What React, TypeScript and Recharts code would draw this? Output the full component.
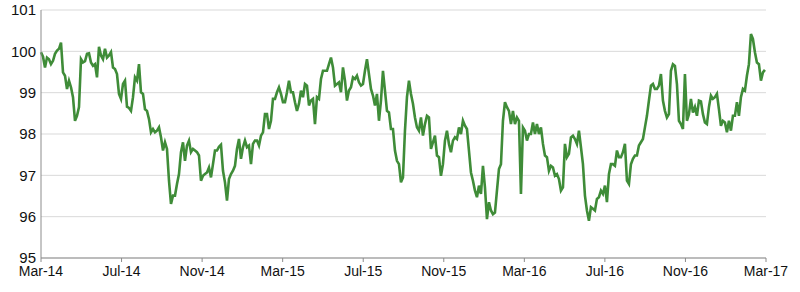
import React from 'react';
import { LineChart, Line, XAxis, YAxis, CartesianGrid } from 'recharts';

// Axis labels, one every 4 months from Mar-14
const tickLabels = ['Mar-14', 'Jul-14', 'Nov-14', 'Mar-15', 'Jul-15', 'Nov-15', 'Mar-16', 'Jul-16', 'Nov-16', 'Mar-17'];
const yTicks = [95, 96, 97, 98, 99, 100, 101];

// Index level, one reading roughly every 3 days (0.0993 months)
const STEP_MONTHS = 0.0993;

// Mar-14 .. Jul-14
const seg1 = [
  99.98, 99.87, 99.61, 99.85, 99.81, 99.69, 99.77, 99.94, 100.02, 100.06, 100.21, 99.49, 99.41, 99.09, 99.29, 99.13,
  98.89, 98.32, 98.44, 98.65, 99.81, 99.73, 99.76, 99.94, 99.95, 99.73, 99.65, 99.69, 99.37, 100.11, 99.9, 99.81,
  100.06, 99.85, 99.9, 99.98, 99.61, 99.57, 99.45, 98.97, 98.85, 99.21, 99.29, 98.66, 98.63, 98.56,
];
// Jul-14 .. Nov-14
const seg2 = [
  98.89, 99.37, 99.29, 99.69, 99.01, 98.97, 98.6, 98.56, 98.36, 98.04, 98.12, 98.04, 98.08, 98.16, 97.92, 97.6, 97.8,
  97.64, 96.87, 96.31, 96.51, 96.51, 96.79, 97.03, 97.56, 97.8, 97.35, 97.72, 97.84, 97.56, 97.64, 97.6, 97.56, 97.48,
  96.87, 96.99, 97.03, 97.07, 97.19, 96.95, 97.27, 97.6, 97.6, 97.69, 97.74,
];
// Nov-14 .. Mar-15
const seg3 = [
  97.11, 96.83, 96.39, 96.91, 97.03, 97.11, 97.23, 97.64, 97.88, 97.4, 97.68, 97.84, 97.68, 97.72, 97.27, 97.76, 97.84,
  97.84, 97.72, 97.96, 98.04, 98.48, 98.48, 98.12, 98.32, 98.85, 98.85, 99.01, 99.13, 98.97, 98.77, 98.77, 99.01,
  99.29, 99.01, 99.01, 98.77, 98.56, 98.73, 99.05, 98.89, 99.21, 99.17, 98.69, 98.81,
];
// Mar-15 .. Aug-15
const seg4 = [
  98.85, 98.24, 98.89, 98.85, 99.33, 99.53, 99.53, 99.53, 99.69, 99.85, 99.61, 99.17, 99.21, 99.25, 99.01, 99.61, 99.29,
  98.81, 99.05, 99.13, 99.37, 99.33, 99.41, 99.25, 99.17, 99.21, 99.53, 99.81, 99.45, 99.09, 98.93, 98.69, 98.97,
  98.32, 98.81, 99.53, 99.05, 98.56, 98.52, 98.12, 98.12, 97.6, 97.35, 97.27, 96.83,
];
// Aug-15 .. Feb-16
const seg5 = [
  96.95, 98.08, 98.89, 99.29, 98.97, 98.73, 98.4, 98.16, 98.08, 98.4, 97.96, 98.24, 98.44, 98.4, 97.64, 97.8, 97.96,
  97.48, 97.44, 96.99, 97.27, 97.84, 98.08, 97.76, 97.56, 97.84, 97.92, 97.88, 98.16, 98.0, 98.32, 98.2, 98.12, 97.6,
  97.07, 96.87, 96.63, 96.47, 96.75, 96.55, 97.23, 96.71, 95.94, 96.35, 96.15,
];
// Feb-16 .. Jun-16
const seg6 = [
  96.06, 96.1, 96.63, 97.15, 97.27, 98.32, 98.77, 98.65, 98.56, 98.24, 98.56, 98.24, 98.4, 98.32, 96.55, 98.16, 98.08,
  97.84, 98.0, 98.0, 98.28, 98.0, 98.24, 98.0, 98.16, 97.76, 97.48, 97.44, 97.11, 97.23, 97.19, 96.99, 97.03, 96.91,
  96.63, 96.71, 97.76, 97.44, 97.52, 97.92, 97.96, 97.88, 97.76, 98.08, 97.68,
];
// Jun-16 .. Oct-16
const seg7 = [
  97.27, 96.51, 96.15, 95.9, 96.23, 96.19, 96.15, 96.43, 96.47, 96.63, 96.55, 96.75, 96.35, 97.03, 97.27, 97.27, 97.23,
  97.6, 97.44, 97.44, 97.56, 97.76, 96.87, 96.79, 97.27, 97.4, 97.48, 97.48, 97.72, 97.8, 97.88, 98.16, 98.44, 98.81,
  99.17, 99.21, 99.09, 99.09, 99.17, 99.45, 98.81, 98.56, 98.4, 98.48, 99.53,
];
// Oct-16 .. Mar-17
const seg8 = [
  99.69, 99.65, 99.21, 98.32, 98.24, 98.12, 99.45, 98.32, 98.48, 98.85, 98.52, 98.65, 98.44, 98.81, 98.79, 98.48, 98.28,
  98.24, 98.65, 98.93, 98.85, 98.89, 98.97, 98.6, 98.2, 98.32, 98.28, 98.04, 98.32, 98.08, 98.44, 98.44, 98.77, 98.44,
  98.89, 99.09, 99.05, 99.41, 99.69, 100.42, 100.3, 99.98, 99.73, 99.69, 99.29, 99.49, 99.55,
];

const values = [...seg1, ...seg2, ...seg3, ...seg4, ...seg5, ...seg6, ...seg7, ...seg8];
const data = values.map((v, i) => ({ t: i * STEP_MONTHS, value: v }));

const fontFamily = 'Liberation Sans, Arial, sans-serif';

const App: React.FC = () => {
  return (
    <div style={{ position: 'absolute', left: 0, top: 0, width: 800, height: 292, background: '#fff' }}>
      <LineChart width={800} height={292} data={data} margin={{ top: 10, right: 34, left: 0, bottom: 4 }}>
        <CartesianGrid vertical={false} stroke="#d9d9d9" strokeWidth={1} />
        <XAxis
          dataKey="t"
          type="number"
          domain={[0, 36]}
          ticks={[0, 4, 8, 12, 16, 20, 24, 28, 32, 36]}
          tickFormatter={(t: number) => tickLabels[Math.round(t / 4)]}
          interval={0}
          height={30}
          tickSize={4}
          tickMargin={4}
          stroke="#8c8c8c"
          tick={{ fontFamily, fontSize: 14, fill: '#111' }}
        />
        <YAxis
          type="number"
          domain={[95, 101]}
          ticks={yTicks}
          interval={0}
          width={41}
          tickLine={false}
          tickSize={0}
          tickMargin={5}
          stroke="#8c8c8c"
          tick={{ fontFamily, fontSize: 15, fill: '#111' }}
        />
        <Line
          type="linear"
          dataKey="value"
          stroke="#3f8c38"
          strokeWidth={2.6}
          dot={false}
          isAnimationActive={false}
        />
      </LineChart>
    </div>
  );
};

export default App;
